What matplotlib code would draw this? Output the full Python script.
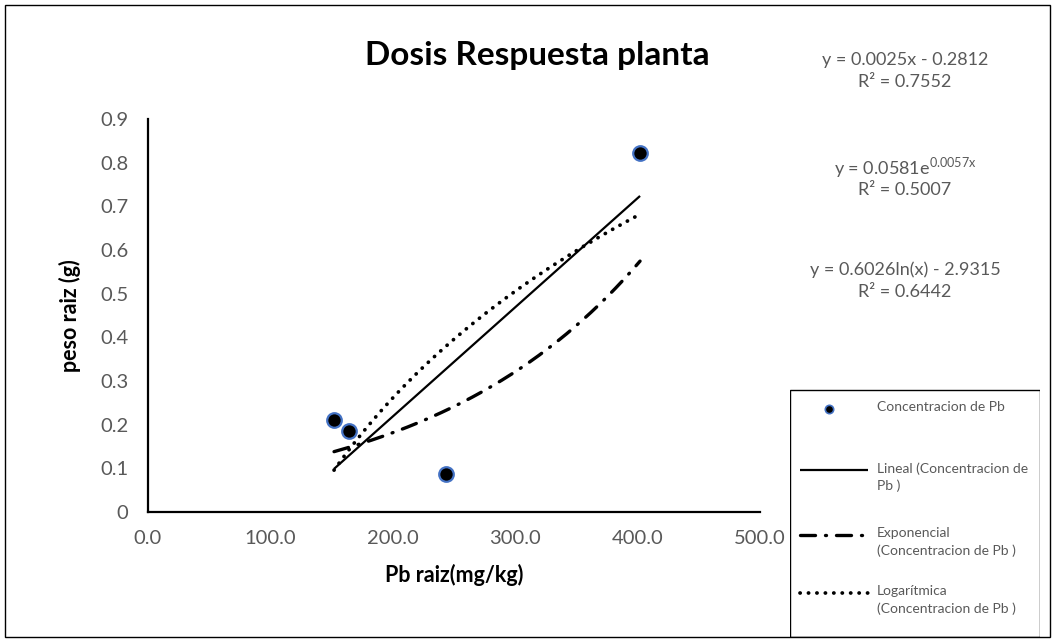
import matplotlib.pyplot as plt
import numpy as np
from matplotlib.patches import Rectangle

plt.rcParams['font.family'] = ['Lato', 'DejaVu Sans']

# concentracion de Pb en raiz y peso de raiz
pb_raiz = [152, 164.5, 243.5, 402]
peso_raiz = [0.21, 0.186, 0.087, 0.822]

# lineas de tendencia (ecuaciones)
lin_a, lin_b = 0.0025, -0.2812
exp_a, exp_b = 0.0581, 0.0057
log_a, log_b = 0.6026, -2.9315

eq_lineal = ["y = 0.0025x - 0.2812", "R² = 0.7552"]
eq_expo = [r"y = 0.0581e$^{\mathregular{0.0057x}}$", "R² = 0.5007"]
eq_log = ["y = 0.6026ln(x) - 2.9315", "R² = 0.6442"]

leg_labels = ["Concentracion de Pb", "Lineal (Concentracion de\nPb )",
              "Exponencial\n(Concentracion de Pb )", "Logarítmica\n(Concentracion de Pb )"]

gris = '#595959'
azul = '#4472C4'
W, H = 1055, 642

estilo_lin = dict(color='black', lw=1.6, solid_capstyle='butt')
estilo_exp = dict(color='black', lw=2.4, dashes=(4.5, 3, 0.3, 3), dash_capstyle='round')
estilo_log = dict(color='black', lw=2.7, dashes=(0.05, 2.2), dash_capstyle='round')

fig = plt.figure(figsize=(W / 100, H / 100), dpi=100)
ax = fig.add_axes([148 / W, 130 / H, 612 / W, 393 / H])

x = np.linspace(min(pb_raiz), max(pb_raiz), 300)
ax.plot(x, lin_a * x + lin_b, **estilo_lin)
ax.plot(x, exp_a * np.exp(exp_b * x), **estilo_exp)
ax.plot(x, log_a * np.log(x) + log_b, **estilo_log)
ax.scatter(pb_raiz, peso_raiz, s=110, color='black', edgecolor=azul,
           linewidth=1.6, zorder=5)

ax.set_xlim(0, 500)
ax.set_ylim(0, 0.9)
xt = np.arange(0, 501, 100)
ax.set_xticks(xt)
ax.set_xticklabels([f"{v:.1f}" for v in xt])
yt = np.round(np.arange(0, 0.91, 0.1), 1)
ax.set_yticks(yt)
ax.set_yticklabels(['0'] + [f"{v:.1f}" for v in yt[1:]])
ax.tick_params(length=0, labelsize=14.5, colors=gris)
ax.tick_params(axis='x', pad=13)
ax.tick_params(axis='y', pad=14)
for s in ['top', 'right']:
    ax.spines[s].set_visible(False)
for s in ['left', 'bottom']:
    ax.spines[s].set_linewidth(1.6)

ax.set_xlabel("Pb raiz(mg/kg)", fontsize=15.5, fontweight='bold', labelpad=12)
ax.set_ylabel("peso raiz (g)", fontsize=15.5, fontweight='bold', labelpad=14)
fig.text(537 / W, 1 - 55 / H, "Dosis Respuesta planta", fontsize=24,
         fontweight='bold', ha='center', va='center')

# ecuaciones de tendencia
for eq, yy in [(eq_lineal, 60), (eq_expo, 168), (eq_log, 270)]:
    fig.text(905 / W, 1 - yy / H, eq[0], fontsize=13, color=gris, ha='center', va='center')
    fig.text(905 / W, 1 - (yy + 22) / H, eq[1], fontsize=13, color=gris, ha='center', va='center')

# leyenda
lg = fig.add_axes([790 / W, 5 / H, 250 / W, 385 / H])
lg.set_xlim(790, 1040)
lg.set_ylim(637, 252)
lg.set_axis_off()
lg.add_patch(Rectangle((790, 390), 250, 247, fill=False, edgecolor='black', lw=1.0))
lg.plot([829], [409], ls='none', marker='o', markersize=6, markerfacecolor='black',
        markeredgecolor=azul, markeredgewidth=1.2)
lg.plot([800, 868], [470, 470], **estilo_lin)
lg.plot([800, 868], [535, 535], **estilo_exp)
lg.plot([800, 868], [593, 593], **estilo_log)
for lab, yy in zip(leg_labels, [409, 470, 535, 593]):
    lg.text(877, yy - 8, lab, fontsize=10, color=gris, ha='left', va='top',
            linespacing=1.5)

# marco exterior
fig.patches.append(Rectangle((5 / W, 5 / H), 1045 / W, 632 / H,
                             transform=fig.transFigure, fill=False,
                             edgecolor='black', lw=1.0))

fig.savefig('out.png', dpi=100)
